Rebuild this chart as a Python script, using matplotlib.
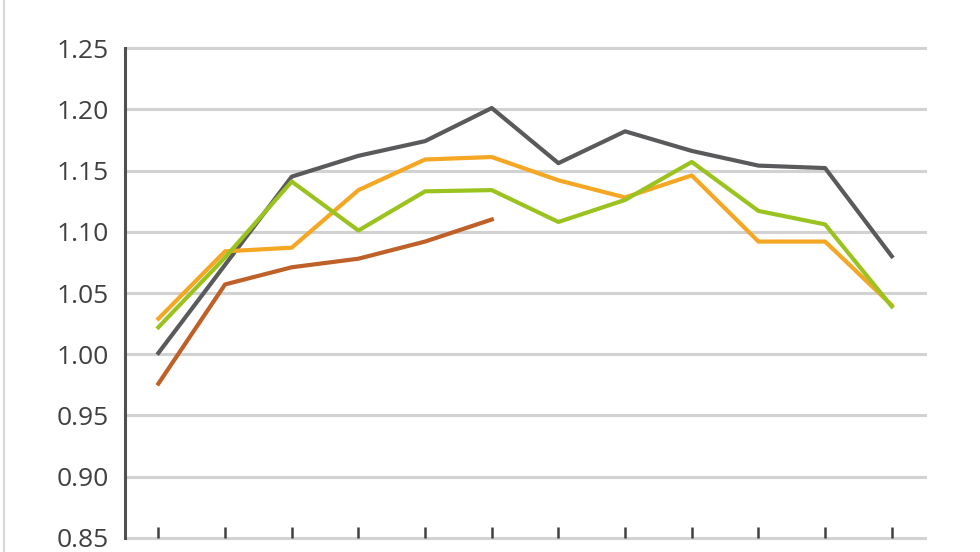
import matplotlib.pyplot as plt
from matplotlib.lines import Line2D
import numpy as np

# values (12 categories, no labels shown)
gray = [1.001, 1.073, 1.145, 1.162, 1.174, 1.201, 1.156, 1.182, 1.166, 1.154, 1.152, 1.080]
orange = [1.029, 1.084, 1.087, 1.134, 1.159, 1.161, 1.142, 1.128, 1.146, 1.092, 1.092, 1.040]
green = [1.022, 1.079, 1.141, 1.101, 1.133, 1.134, 1.108, 1.126, 1.157, 1.117, 1.106, 1.039]
brown = [0.976, 1.057, 1.071, 1.078, 1.092, 1.110]
yticks = [0.85, 0.90, 0.95, 1.00, 1.05, 1.10, 1.15, 1.20, 1.25]

plt.rcParams['font.family'] = ['Open Sans', 'DejaVu Sans']

fig = plt.figure(figsize=(9.8, 5.52), dpi=100)
ax = fig.add_axes([0.1276, 0.0254, 0.8164, 0.8876])

x = np.arange(len(gray))
ax.plot(x, gray, color='#5a5a5c', lw=3, zorder=3)
ax.plot(x, orange, color='#f5a623', lw=3, zorder=3)
ax.plot(x, green, color='#9bc31f', lw=3, zorder=4)
ax.plot(np.arange(len(brown)), brown, color='#bf6028', lw=3, zorder=3)

ax.set_xlim(-0.5, 11.5)
ax.set_ylim(0.85, 1.25)
ax.set_yticks(yticks)
ax.set_yticklabels([f'{v:.2f}' for v in yticks])
ax.set_xticks(x)
ax.set_xticklabels([])

# gridlines
for v in yticks:
    ax.axhline(v, color='#d2d2d2', lw=2.2, zorder=1, clip_on=False)

for s in ['top', 'right', 'bottom']:
    ax.spines[s].set_visible(False)
ax.spines['left'].set_color('#505050')
ax.spines['left'].set_linewidth(2.2)

ax.tick_params(axis='y', length=0, pad=12, labelsize=19, labelcolor='#404040')
ax.tick_params(axis='x', direction='in', length=8, width=1.8, color='#404040', pad=0)

# faint border at the left edge of the screenshot
fig.add_artist(Line2D([0.004, 0.004], [0, 1], color='#d8d8d8', lw=1.5, transform=fig.transFigure))

fig.savefig('out.png', dpi=100)
